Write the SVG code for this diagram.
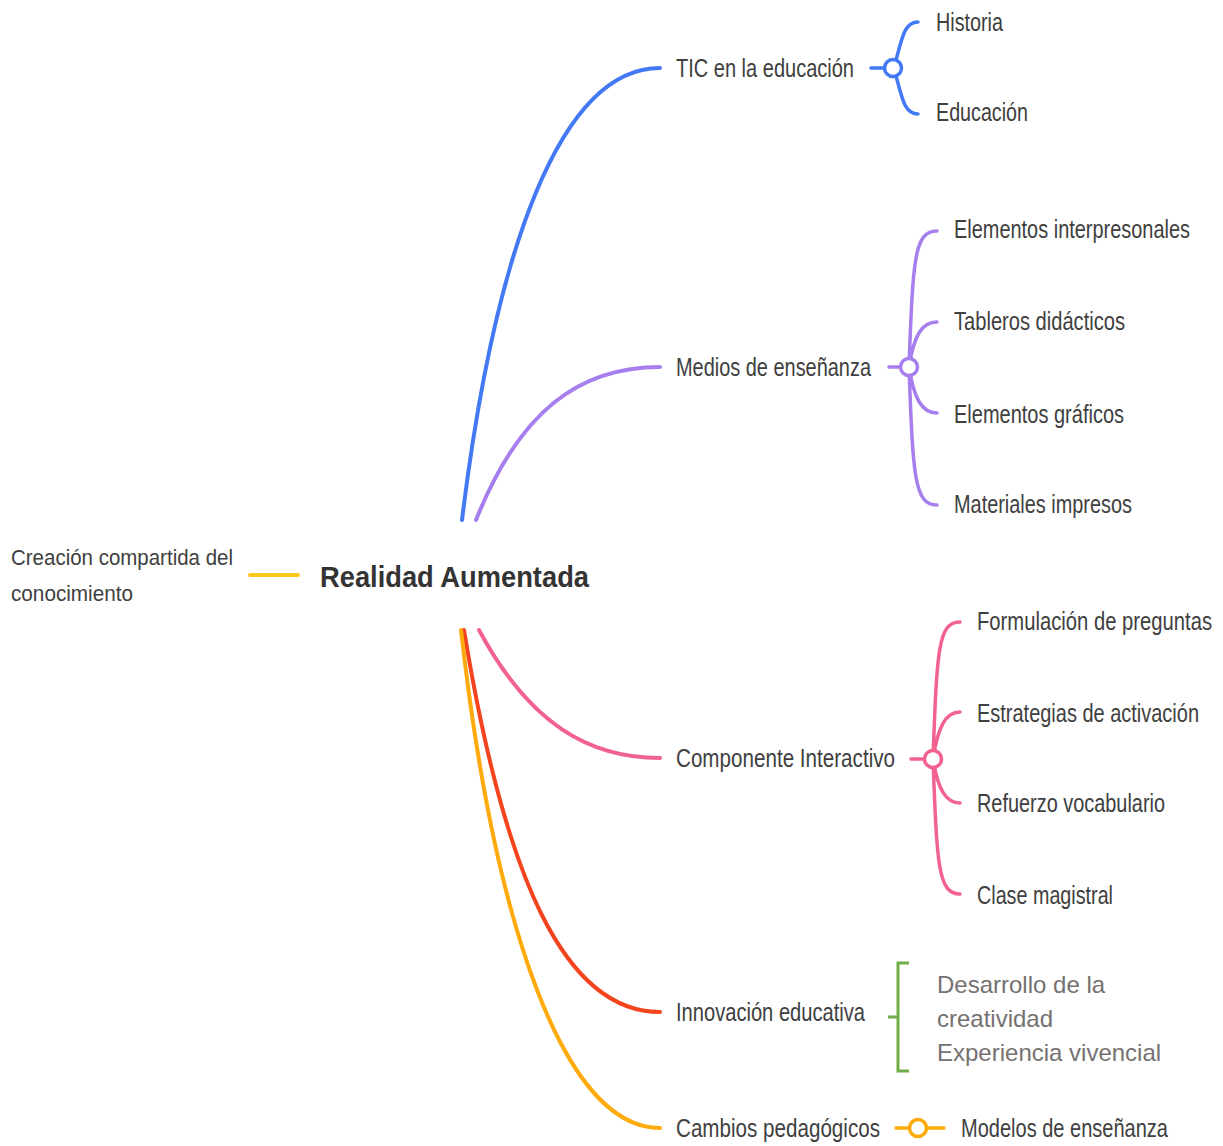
<svg xmlns="http://www.w3.org/2000/svg" width="1223" height="1146" viewBox="0 0 1223 1146">
<style>
.t{font-family:"Liberation Sans",Arial,sans-serif;font-size:25px;fill:#404040}
.s{font-family:"Liberation Sans",Arial,sans-serif;font-size:22px;fill:#404040}
.r{font-family:"Liberation Sans",Arial,sans-serif;font-size:29px;font-weight:bold;fill:#333}
.g{font-family:"Liberation Sans",Arial,sans-serif;font-size:24px;fill:#767171}
.c{fill:none;stroke-width:4;stroke-linecap:round}
.b{fill:none;stroke-width:3.5;stroke-linecap:round}
.hub{fill:#fff;stroke-width:3.5}
</style>
<rect width="1223" height="1146" fill="#fff"/>
<g id="connectors">
<path class="c" stroke="#4479F5" d="M462,520 C495,250 560,68 660,68"/>
<path class="c" stroke="#A67EEE" d="M476,520 C520,410 580,367 660,367"/>
<path class="c" stroke="#F2628F" d="M479,630 C530,725 590,758 660,758"/>
<path class="c" stroke="#F4441E" d="M464,630 C505,880 565,1012 660,1012"/>
<path class="c" stroke="#FDAA0A" d="M461,630 C495,930 565,1128 660,1128"/>
<path class="c" stroke="#FFC81E" d="M250,575 H298"/>
<path class="b" stroke="#4479F5" d="M871,68 H885 M894,68 C902,38 904,22 918,22 M894,68 C902,98 904,114 918,114"/>
<path class="b" stroke="#A67EEE" d="M889,367 H900 M909,367 C913,260 914,231 937,231 M909,367 C914,335 922,322 937,322 M909,367 C914,399 922,413 937,413 M909,367 C913,475 914,505 937,505"/>
<path class="b" stroke="#F2628F" d="M911,759 H924 M933,759 C937,650 938,622 960,622 M933,759 C938,726 946,712 960,712 M933,759 C938,790 946,803 960,803 M933,759 C937,865 938,894 960,894"/>
<path class="b" stroke="#FDAA0A" d="M896,1128 H944"/>
<path fill="none" stroke="#70AD47" stroke-width="3" d="M909,963 H898 V1071 H909 M888,1017 H898"/>
</g>
<g id="hub-tic"><circle class="hub" stroke="#4479F5" cx="893" cy="68" r="8.5"/></g>
<g id="hub-medios"><circle class="hub" stroke="#A67EEE" cx="909" cy="367" r="8.5"/></g>
<g id="hub-comp"><circle class="hub" stroke="#F2628F" cx="933" cy="759" r="8.5"/></g>
<g id="hub-cambios"><circle class="hub" stroke="#FDAA0A" cx="918" cy="1128" r="8.5"/></g>
<g id="root"><text class="r" x="320" y="587" textLength="269" lengthAdjust="spacingAndGlyphs">Realidad Aumentada</text></g>
<g id="creacion"><text class="s" x="11" y="565" textLength="222" lengthAdjust="spacingAndGlyphs">Creación compartida del</text><text class="s" x="11" y="601" textLength="122" lengthAdjust="spacingAndGlyphs">conocimiento</text></g>
<g id="tic"><text class="t" x="676" y="77" textLength="178" lengthAdjust="spacingAndGlyphs">TIC en la educación</text></g>
<g id="historia"><text class="t" x="936" y="31" textLength="67" lengthAdjust="spacingAndGlyphs">Historia</text></g>
<g id="educacion"><text class="t" x="936" y="121" textLength="92" lengthAdjust="spacingAndGlyphs">Educación</text></g>
<g id="medios"><text class="t" x="676" y="376" textLength="195" lengthAdjust="spacingAndGlyphs">Medios de enseñanza</text></g>
<g id="interp"><text class="t" x="954" y="238" textLength="236" lengthAdjust="spacingAndGlyphs">Elementos interpresonales</text></g>
<g id="tableros"><text class="t" x="954" y="330" textLength="171" lengthAdjust="spacingAndGlyphs">Tableros didácticos</text></g>
<g id="graficos"><text class="t" x="954" y="423" textLength="170" lengthAdjust="spacingAndGlyphs">Elementos gráficos</text></g>
<g id="materiales"><text class="t" x="954" y="513" textLength="178" lengthAdjust="spacingAndGlyphs">Materiales impresos</text></g>
<g id="componente"><text class="t" x="676" y="767" textLength="219" lengthAdjust="spacingAndGlyphs">Componente Interactivo</text></g>
<g id="formulacion"><text class="t" x="977" y="630" textLength="235" lengthAdjust="spacingAndGlyphs">Formulación de preguntas</text></g>
<g id="estrategias"><text class="t" x="977" y="722" textLength="222" lengthAdjust="spacingAndGlyphs">Estrategias de activación</text></g>
<g id="refuerzo"><text class="t" x="977" y="812" textLength="188" lengthAdjust="spacingAndGlyphs">Refuerzo vocabulario</text></g>
<g id="clase"><text class="t" x="977" y="904" textLength="136" lengthAdjust="spacingAndGlyphs">Clase magistral</text></g>
<g id="innovacion"><text class="t" x="676" y="1021" textLength="189" lengthAdjust="spacingAndGlyphs">Innovación educativa</text></g>
<g id="desarrollo"><text class="g" x="937" y="993">Desarrollo de la</text><text class="g" x="937" y="1027">creatividad</text><text class="g" x="937" y="1061">Experiencia vivencial</text></g>
<g id="cambios"><text class="t" x="676" y="1137" textLength="204" lengthAdjust="spacingAndGlyphs">Cambios pedagógicos</text></g>
<g id="modelos"><text class="t" x="961" y="1137" textLength="207" lengthAdjust="spacingAndGlyphs">Modelos de enseñanza</text></g>
</svg>
